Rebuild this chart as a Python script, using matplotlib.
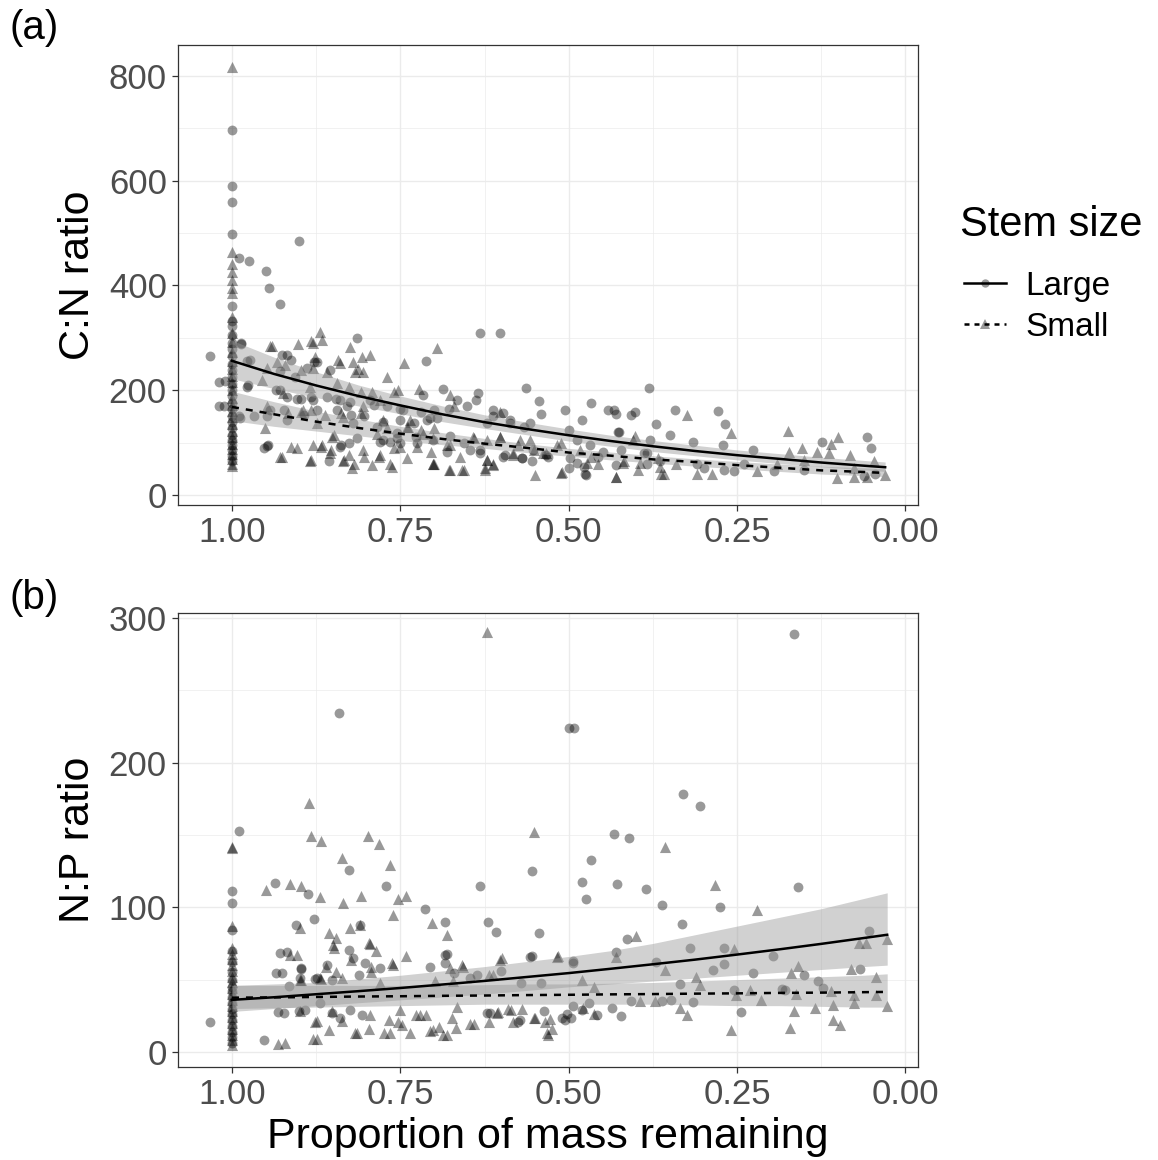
"""Stoichiometry during wood decay: C:N and N:P vs proportion of mass remaining,
large vs small stems, with fitted curves + 95% bands (values read off the figure)."""
import matplotlib
matplotlib.use("Agg")
import matplotlib.pyplot as plt
from matplotlib.lines import Line2D
from matplotlib.ticker import MultipleLocator

plt.rcParams["font.family"] = ["Liberation Sans", "DejaVu Sans"]

# ---------------- panel (a): C:N ratio ----------------
a_large_x0 = [696, 589, 560, 498, 360, 332, 322, 305, 290, 278, 265, 250, 238, 225, 212, 200,
              188, 175, 165, 150, 140, 128, 115, 105, 95, 85, 75, 65]   # y at x = 1.00
a_large = [
    (1.032, 265), (0.990, 452), (0.974, 447), (0.950, 428), (0.945, 395), (0.901, 484),
    (0.929, 364), (0.814, 299), (0.632, 309), (0.602, 309), (0.712, 255), (0.564, 205),
    (0.544, 180), (0.541, 155), (0.505, 162), (0.986, 288), (0.977, 256), (0.919, 267),
    (0.878, 254), (0.854, 238), (1.020, 215), (1.020, 170), (0.976, 210), (0.934, 200),
    (0.904, 184), (0.879, 181), (0.845, 184), (0.825, 178), (0.795, 181), (0.770, 169),
    (0.746, 162), (0.716, 191), (0.686, 203), (0.666, 181), (0.651, 169), (0.637, 181),
    (0.612, 162), (0.587, 143), (0.567, 130), (0.988, 146), (0.953, 89), (0.946, 96),
    (0.856, 64), (0.838, 96), (0.814, 108), (0.775, 105), (0.755, 108), (0.726, 111),
    (0.701, 105), (0.681, 83), (0.656, 99), (0.632, 86), (0.597, 73), (0.570, 70),
    (0.531, 73), (0.944, 162), (0.919, 143), (0.820, 137), (0.785, 130), (0.706, 146),
    (0.622, 137), (0.480, 144), (0.467, 176), (0.441, 163), (0.433, 163), (0.429, 155),
    (0.407, 152), (0.401, 158), (0.381, 204), (0.371, 136), (0.426, 120), (0.349, 115),
    (0.342, 163), (0.316, 101), (0.278, 161), (0.268, 136), (0.271, 96), (0.226, 86),
    (0.124, 102), (0.057, 110), (0.051, 89), (0.477, 54), (0.475, 38), (0.500, 51),
    (0.457, 73), (0.388, 80), (0.383, 60), (0.309, 60), (0.299, 51), (0.270, 48),
    (0.254, 45), (0.240, 60), (0.195, 45), (0.151, 48), (0.379, 105), (0.423, 86),
    (0.062, 36), (0.045, 40),
    # second, closer reading of the dense cloud
    (0.987, 290), (0.973, 258), (0.978, 206), (1.010, 218), (1.012, 170), (0.990, 150),
    (0.926, 267), (0.913, 258), (0.928, 236), (0.906, 226), (0.889, 242), (0.874, 254),
    (0.929, 200), (0.898, 184), (0.918, 187), (0.883, 187), (0.859, 187), (0.840, 181),
    (0.829, 169), (0.789, 172), (0.750, 165), (0.720, 159), (0.700, 162), (0.968, 150),
    (0.948, 150), (0.923, 162), (0.893, 153), (0.874, 162), (0.844, 162), (0.824, 153),
    (0.804, 150), (0.775, 140), (0.750, 143), (0.730, 137), (0.710, 143), (0.948, 94),
    (0.839, 92), (0.826, 99), (0.765, 102), (0.750, 99), (0.725, 99), (0.780, 102),
    (0.755, 118), (0.634, 194), (0.678, 165), (0.612, 150), (0.597, 156), (0.587, 137),
    (0.557, 137), (0.427, 121), (0.696, 146), (0.676, 112), (0.646, 86), (0.632, 80),
    (0.595, 77), (0.570, 71), (0.555, 65), (0.533, 77), (0.498, 71), (0.488, 61),
    (0.476, 41), (0.449, 83), (0.429, 58), (0.384, 80), (0.364, 65), (0.553, 86),
    (0.468, 96), (0.499, 124), (0.488, 105),
]
a_small_x0 = [817, 463, 440, 425, 410, 395, 386, 340, 310, 292, 272, 255, 240, 228, 215, 200,
              185, 172, 160, 148, 135, 122, 110, 98, 88, 78, 68, 60, 56]
a_small = [
    (0.941, 284), (0.902, 288), (0.882, 293), (0.869, 312), (0.867, 296), (0.825, 282),
    (0.807, 264), (0.795, 267), (0.744, 251), (0.696, 280), (0.770, 225), (0.843, 257),
    (0.820, 253), (0.813, 240), (0.933, 254), (0.722, 203), (0.759, 197), (0.951, 127),
    (0.929, 73), (0.884, 65), (0.835, 64), (0.822, 51), (0.792, 57), (0.762, 54),
    (0.701, 60), (0.678, 48), (0.659, 48), (0.624, 51), (0.612, 60), (0.550, 38),
    (0.511, 42), (0.879, 96), (0.866, 96), (0.854, 80), (0.904, 89), (0.805, 86),
    (0.782, 73), (0.750, 92), (0.738, 130), (0.716, 117), (0.676, 96), (0.661, 73),
    (0.622, 67), (0.582, 80), (0.552, 86), (0.533, 80), (0.894, 162), (0.874, 137),
    (0.849, 114), (0.835, 149), (0.805, 169), (0.775, 143), (0.736, 143), (0.671, 169),
    (0.642, 111), (0.602, 111), (0.573, 105), (0.924, 194), (0.884, 207), (0.956, 219),
    (0.325, 153), (0.259, 118), (0.175, 123), (0.401, 113), (0.512, 99), (0.467, 73),
    (0.510, 43), (0.430, 35), (0.397, 48), (0.363, 41), (0.309, 40), (0.287, 40),
    (0.220, 45), (0.173, 83), (0.153, 89), (0.131, 83), (0.111, 98), (0.100, 110),
    (0.114, 80), (0.082, 76), (0.102, 32), (0.076, 35), (0.057, 34), (0.046, 64),
    (0.030, 38), (0.340, 60), (0.368, 70), (0.418, 64), (0.457, 60), (0.190, 60),
    (0.151, 67), (0.077, 51),
    # second, closer reading of the dense cloud
    (0.943, 285), (0.880, 290), (0.818, 235), (0.805, 235), (0.839, 251), (0.753, 200),
    (0.948, 242), (0.921, 248), (0.898, 238), (0.876, 264), (0.879, 242), (0.859, 235),
    (0.844, 213), (0.826, 206), (0.809, 197), (0.792, 197), (0.780, 181), (0.809, 156),
    (0.838, 156), (0.862, 153), (0.883, 162), (0.898, 159), (0.917, 156), (0.948, 169),
    (0.926, 73), (0.913, 92), (0.883, 67), (0.868, 92), (0.853, 86), (0.851, 111),
    (0.834, 67), (0.826, 76), (0.819, 60), (0.804, 73), (0.780, 76), (0.765, 60),
    (0.760, 89), (0.740, 70), (0.725, 92), (0.705, 83), (0.700, 60), (0.740, 130),
    (0.720, 124), (0.700, 127), (0.770, 127), (0.785, 117), (0.676, 191), (0.602, 159),
    (0.641, 108), (0.622, 105), (0.602, 111), (0.575, 96), (0.701, 108), (0.681, 96),
    (0.701, 60), (0.676, 48), (0.656, 48), (0.622, 67), (0.612, 58), (0.624, 48),
    (0.538, 80), (0.518, 96), (0.483, 86), (0.473, 61), (0.429, 35), (0.419, 61),
    (0.404, 105), (0.394, 61), (0.364, 54), (0.359, 41), (0.582, 77), (0.557, 105),
]
# fitted curves and 95% bands, read at these x positions
a_fit_x = [1.0, 0.9375, 0.875, 0.8125, 0.75, 0.6875, 0.625, 0.5625, 0.5, 0.4375, 0.375,
           0.3125, 0.25, 0.1875, 0.125, 0.0625, 0.03]
a_large_fit = [256, 231, 209, 189, 171, 154, 139, 126, 114, 103, 93, 84, 76, 69, 62, 56, 53]
a_large_lo = [222, 203, 186, 170, 155, 140, 127, 115, 103, 93, 83, 75, 67, 60, 54, 48, 45]
a_large_hi = [295, 263, 235, 210, 189, 170, 153, 139, 126, 114, 104, 95, 86, 79, 72, 66, 63]
a_small_fit = [168, 154, 140, 128, 117, 107, 98, 90, 81, 75, 68, 63, 57, 52, 47, 44, 42]
a_small_lo = [142, 131, 122, 113, 104, 96, 89, 81, 74, 67, 61, 55, 50, 45, 40, 37, 35]
a_small_hi = [198, 178, 160, 145, 131, 119, 108, 98, 89, 82, 75, 69, 64, 59, 55, 52, 50]

# ---------------- panel (b): N:P ratio ----------------
b_large_x0 = [111, 103, 84, 70, 62, 55, 50, 45, 42, 38, 34, 30, 26, 22, 18, 14, 10, 6]
b_large = [
    (1.032, 21), (0.989, 152.7), (0.841, 234), (0.500, 224), (0.492, 224), (0.826, 126),
    (0.771, 115), (0.936, 117), (0.887, 109), (0.714, 98.5), (0.632, 115), (0.554, 125),
    (0.620, 90), (0.608, 83), (0.684, 90), (0.544, 82.5), (0.905, 87.8), (0.878, 91.8),
    (0.810, 87.8), (0.826, 70.2), (0.918, 69), (0.926, 54.3), (0.898, 57.8), (0.780, 57.8),
    (0.706, 58.5), (0.684, 67), (0.684, 61.2), (0.555, 66), (0.600, 56), (0.647, 51),
    (0.915, 45.7), (0.876, 50.6), (0.852, 49.9), (0.812, 53.4), (0.571, 47.5), (0.541, 47.5),
    (0.923, 26.6), (0.891, 29), (0.869, 33.7), (0.852, 26.6), (0.825, 29), (0.807, 25.5),
    (0.952, 8.2), (0.617, 26.6), (0.575, 21), (0.537, 28.6), (0.510, 23.2),
    (0.166, 288.7), (0.330, 178), (0.305, 170), (0.432, 150.7), (0.410, 147.7), (0.467, 132.5),
    (0.480, 117.8), (0.475, 105.6), (0.428, 116.4), (0.385, 112.3), (0.160, 113.9),
    (0.362, 101.6), (0.276, 100), (0.331, 88.4), (0.413, 78.2), (0.054, 83.6), (0.320, 71.9),
    (0.269, 71.9), (0.196, 66), (0.493, 62.6), (0.430, 69), (0.371, 62.3), (0.285, 56.6),
    (0.269, 60.5), (0.226, 54.3), (0.150, 53.1), (0.067, 57.1), (0.130, 48.8), (0.122, 44),
    (0.334, 47.2), (0.183, 43.8), (0.178, 43), (0.255, 42.5), (0.244, 27.8), (0.315, 34.3),
    (0.348, 35.9), (0.362, 35), (0.408, 35.1), (0.423, 24.8), (0.435, 30.5), (0.502, 25.9),
    (0.497, 23.6), (0.493, 31.6), (0.480, 29), (0.470, 34),
    # second reading, lower band
    (0.929, 68.6), (0.934, 54.4), (0.897, 57.1), (0.899, 50.9), (0.874, 50.9), (0.931, 27.3),
    (0.901, 28.6), (0.802, 61.3), (0.681, 67.7), (0.671, 54.4), (0.636, 53.3), (0.622, 26.8),
    (0.572, 22.2), (0.557, 65.9), (0.505, 22.2), (0.493, 61.3), (0.458, 25.6), (0.859, 60.1),
    (0.821, 64.7), (0.839, 23.3),
]
b_small_x0 = [142, 141, 87, 72, 68, 64, 60, 56, 52, 48, 44, 40, 36, 32, 28, 24, 20, 16, 12, 8, 5]
b_small = [
    (0.622, 290.5), (0.885, 172), (0.882, 149), (0.868, 146), (0.798, 149.6), (0.782, 144),
    (0.836, 134), (0.766, 129.5), (0.950, 112), (0.914, 116), (0.898, 115), (0.869, 107),
    (0.835, 103), (0.808, 108), (0.754, 105.5), (0.741, 108), (0.761, 95), (0.551, 152.3),
    (0.703, 89), (0.681, 81), (0.899, 86), (0.856, 82.4), (0.845, 78.7), (0.825, 85.5),
    (0.810, 87.8), (0.850, 74), (0.795, 74.7), (0.786, 69.5), (0.903, 67.3), (0.860, 59),
    (0.823, 63.6), (0.793, 59), (0.761, 60), (0.741, 66.3), (0.657, 59), (0.517, 65.6),
    (0.602, 63.6), (0.619, 53.2), (0.698, 48.7), (0.672, 48.7), (0.899, 49.9), (0.869, 51),
    (0.922, 6), (0.880, 8.7), (0.876, 21), (0.856, 15.2), (0.836, 21.6), (0.817, 12.9),
    (0.797, 15.6), (0.774, 12.9), (0.754, 21), (0.748, 18.7), (0.736, 12.9), (0.726, 25.5),
    (0.712, 25.5), (0.706, 14.5), (0.693, 17.5), (0.687, 11.7), (0.674, 23.2), (0.667, 16.3),
    (0.647, 19.4), (0.619, 21), (0.607, 26.6), (0.590, 30), (0.582, 21), (0.570, 30),
    (0.552, 23.2), (0.535, 21), (0.532, 12.9),
    (0.357, 141.6), (0.282, 115.5), (0.220, 98), (0.400, 80), (0.069, 75.1), (0.059, 75.1),
    (0.027, 78), (0.254, 71.5), (0.516, 66.6), (0.430, 65.8), (0.357, 56.6), (0.160, 59.4),
    (0.170, 54.3), (0.080, 57.1), (0.044, 51.8), (0.311, 51.8), (0.305, 46), (0.252, 39.7),
    (0.230, 43.1), (0.214, 36.2), (0.162, 40.1), (0.110, 42), (0.076, 39.7), (0.044, 39.7),
    (0.027, 31.6), (0.076, 33.9), (0.107, 32.3), (0.107, 22.4), (0.165, 28.2), (0.172, 16.3),
    (0.134, 30.5), (0.097, 18.4), (0.259, 15.2), (0.334, 30.2), (0.325, 25.4), (0.394, 35.1),
    (0.372, 35), (0.463, 25.9), (0.527, 22.5), (0.525, 15.6),
    # second reading, lower band
    (0.914, 67), (0.849, 71.6), (0.797, 75), (0.762, 61.3), (0.659, 60.1), (0.599, 64.7),
    (0.845, 55.6), (0.897, 49.8), (0.868, 50.2), (0.836, 50.9), (0.794, 55.6), (0.780, 47.5),
    (0.676, 57.8), (0.612, 53.3), (0.480, 49.8), (0.463, 45.2), (0.899, 28), (0.852, 28),
    (0.874, 21.1), (0.874, 9), (0.931, 5.3), (0.815, 13.1), (0.795, 25.6), (0.767, 22.2),
    (0.750, 29), (0.765, 13.1), (0.721, 25.6), (0.701, 15.4), (0.681, 12), (0.666, 31.4),
    (0.641, 19.5), (0.605, 27.9), (0.585, 29), (0.550, 23.3), (0.530, 12), (0.479, 30.2),
]
b_fit_x = [1.0, 0.9375, 0.875, 0.8125, 0.75, 0.6875, 0.625, 0.5625, 0.5, 0.4375, 0.375,
           0.3125, 0.25, 0.1875, 0.125, 0.0625, 0.027]
b_large_fit = [36, 37.8, 39.9, 42.0, 44.2, 46.6, 49.1, 51.8, 54.5, 57.5, 60.6, 63.8, 67.3,
               70.9, 74.7, 78.7, 81.0]
b_large_lo = [28, 30, 32, 34, 36, 38, 40, 42.5, 45, 47, 49, 51, 53, 55, 57, 59, 60]
b_large_hi = [46, 47, 48, 50.5, 53, 56, 59, 62.5, 66, 70, 75, 81, 87, 93, 99, 106, 110]
b_small_fit = [37.5, 37.7, 38, 38.3, 38.5, 38.8, 39, 39.3, 39.5, 39.8, 40, 40.3, 40.5, 40.8,
               41, 41.3, 41.5]
b_small_lo = [30, 30.5, 31, 31.5, 32, 32.5, 33, 33, 33, 33, 33, 32.5, 32, 32, 31.5, 31, 31]
b_small_hi = [46, 46, 46, 46, 46, 46, 46.5, 47, 47, 47.5, 48, 49, 50, 51, 52, 53, 54]

GRID = "#EBEBEB"
TICKC = "#4D4D4D"


def split(pts, x0_vals):
    xs = [1.0] * len(x0_vals) + [p[0] for p in pts]
    ys = list(x0_vals) + [p[1] for p in pts]
    return xs, ys


def panel(ax, large, large0, small, small0, fx, lfit, llo, lhi, sfit, slo, shi,
          ylim, ymaj, ymin, ylabel):
    lx, ly = split(large, large0)
    sx, sy = split(small, small0)
    ax.scatter(lx, ly, s=50, marker="o", color="black", alpha=0.4, linewidths=0, zorder=2)
    ax.scatter(sx, sy, s=64, marker="^", color="black", alpha=0.4, linewidths=0, zorder=2)
    ax.fill_between(fx, llo, lhi, color="#999999", alpha=0.45, linewidth=0, zorder=3)
    ax.fill_between(fx, slo, shi, color="#999999", alpha=0.45, linewidth=0, zorder=3)
    ax.plot(fx, lfit, color="black", lw=1.8, zorder=4)
    ax.plot(fx, sfit, color="black", lw=1.8, ls=(0, (2.8, 2.8)), zorder=4)
    ax.set_xlim(1.0802, -0.0187)
    ax.set_ylim(*ylim)
    ax.set_xticks([1.0, 0.75, 0.5, 0.25, 0.0])
    ax.set_xticklabels(["1.00", "0.75", "0.50", "0.25", "0.00"])
    ax.xaxis.set_minor_locator(MultipleLocator(0.125))
    ax.yaxis.set_major_locator(MultipleLocator(ymaj))
    ax.yaxis.set_minor_locator(MultipleLocator(ymin))
    ax.grid(which="major", color=GRID, lw=1.0, zorder=0)
    ax.grid(which="minor", color=GRID, lw=0.5, zorder=0)
    ax.set_axisbelow(True)
    ax.tick_params(which="major", direction="out", length=4, width=0.9, color="#333333",
                   labelsize=25, labelcolor=TICKC, pad=4)
    ax.tick_params(which="minor", length=0)
    for s in ax.spines.values():
        s.set_color("#333333")
        s.set_linewidth(0.9)
    ax.set_ylabel(ylabel, fontsize=31, labelpad=8)


fig = plt.figure(figsize=(11.58, 11.60), dpi=100)
ax1 = fig.add_axes([0.1537, 0.5647, 0.6390, 0.3966])
ax2 = fig.add_axes([0.1537, 0.0802, 0.6390, 0.3914])

panel(ax1, a_large, a_large_x0, a_small, a_small_x0, a_fit_x, a_large_fit, a_large_lo,
      a_large_hi, a_small_fit, a_small_lo, a_small_hi, (-19, 859), 200, 100, "C:N ratio")
panel(ax2, b_large, b_large_x0, b_small, b_small_x0, b_fit_x, b_large_fit, b_large_lo,
      b_large_hi, b_small_fit, b_small_lo, b_small_hi, (-10.4, 303.5), 100, 50, "N:P ratio")
ax2.set_xlabel("Proportion of mass remaining", fontsize=31, labelpad=4)

fig.text(0.008, 1 - 28 / 1160, "(a)", fontsize=29, va="center", ha="left")
fig.text(0.008, 1 - 598 / 1160, "(b)", fontsize=29, va="center", ha="left")

# legend: title drawn separately to get ggplot's gap under it
fig.text(960 / 1158, 1 - 225 / 1160, "Stem size", fontsize=30, va="center", ha="left")
handles = [
    Line2D([], [], color="black", lw=1.8, marker="o", markersize=6,
           markerfacecolor=(0, 0, 0, 0.4), markeredgewidth=0),
    Line2D([], [], color="black", lw=1.8, ls=(0, (2.0, 2.0)), marker="^", markersize=7,
           markerfacecolor=(0, 0, 0, 0.4), markeredgewidth=0),
]
fig.legend(handles, ["Large", "Small"], loc="center left",
           bbox_to_anchor=(0.8066, 1 - 307 / 1160), frameon=False, fontsize=24,
           handlelength=1.25, handletextpad=0.6, labelspacing=0.3)

fig.savefig("out.png", dpi=100)
print("saved out.png")
